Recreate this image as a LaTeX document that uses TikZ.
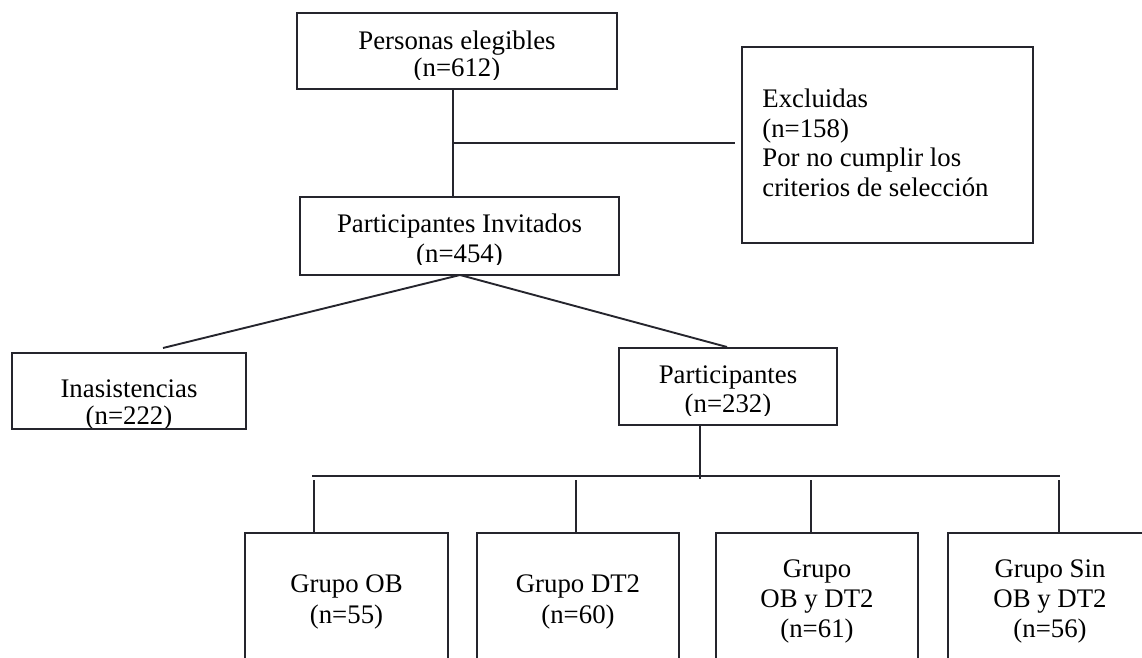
\documentclass[tikz,border=0pt]{standalone}
\usepackage{fontspec}
\setmainfont{Liberation Serif}
\definecolor{lineclr}{HTML}{25252D}
\begin{document}
\begin{tikzpicture}[x=0.5pt,y=-0.5pt,
  box/.style={draw=lineclr, line width=0.95pt, inner sep=0pt, fill=none},
  conn/.style={draw=lineclr, line width=0.95pt},
  txt/.style={inner sep=0pt, anchor=base, font=\fontsize{13.4pt}{15pt}\selectfont},
  ltxt/.style={inner sep=0pt, anchor=base west, font=\fontsize{13.4pt}{15pt}\selectfont}]
\useasboundingbox (0,0) rectangle (1142,658);
\clip (0,0) rectangle (1142,658);
% boxes
\node[box, minimum width=160pt, minimum height=38pt] (b1) at (457,51) {};
\node[box, minimum width=159.5pt, minimum height=39pt] (b2) at (459.5,236) {};
\node[box, minimum width=145.5pt, minimum height=98pt] (ex) at (887.5,145) {};
\node[box, minimum width=117pt, minimum height=38pt] (in) at (129,391) {};
\node[box, minimum width=109pt, minimum height=38.5pt] (pa) at (728,386.5) {};
\node[box, minimum width=101.5pt, minimum height=83.5pt] (g1) at (346.5,616.5) {};
\node[box, minimum width=101pt, minimum height=83.5pt] (g2) at (578,616.5) {};
\node[box, minimum width=101pt, minimum height=83.5pt] (g3) at (817,616.5) {};
\node[box, minimum width=102pt, minimum height=83.5pt] (g4) at (1050,616.5) {};
% texts
\begin{scope}
\clip (297,13) rectangle (617,80);
\node[txt] (t1a) at (457,50) {Personas elegibles};
\node[txt] (t1b) at (457,77) {(n=612)};
\end{scope}
\begin{scope}
\clip (300,197) rectangle (619,265);
\node[txt] (t2a) at (459.5,233) {Participantes Invitados};
\node[txt] (t2b) at (459.5,263) {(n=454)};
\end{scope}
\begin{scope}
\clip (12,353) rectangle (246,427);
\node[txt] (tia) at (129,397) {Inasistencias};
\node[txt] (tib) at (129,424) {(n=222)};
\end{scope}
\begin{scope}
\clip (619,348) rectangle (837,415);
\node[txt] (tpa) at (728,383) {Participantes};
\node[txt] (tpb) at (728,412) {(n=232)};
\end{scope}
\node[ltxt] (tea) at (762,108) {Excluidas};
\node[ltxt] (teb) at (762,137.5) {(n=158)};
\node[ltxt] (tec) at (762,167) {Por no cumplir los};
\node[ltxt] (ted) at (762,197) {criterios de selección};
\node[txt] (tg1a) at (346.5,592) {Grupo OB};
\node[txt] (tg1b) at (346.5,623) {(n=55)};
\node[txt] (tg2a) at (578,592) {Grupo DT2};
\node[txt] (tg2b) at (578,623) {(n=60)};
\node[txt] (tg3a) at (817,577) {Grupo};
\node[txt] (tg3b) at (817,607) {OB y DT2};
\node[txt] (tg3c) at (817,637) {(n=61)};
\node[txt] (tg4a) at (1050,577) {Grupo Sin};
\node[txt] (tg4b) at (1050,607) {OB y DT2};
\node[txt] (tg4c) at (1050,637) {(n=56)};
% connectors
\coordinate (c1) at (453,143);
\coordinate (c2) at (735,143);
\draw[conn] (b1.south -| c1) -- (b2.north -| c1);
\draw[conn] (c1) -- (c2);
\coordinate (s2) at (460,275);
\coordinate (e1) at (163,348);
\coordinate (e2) at (727,347);
\draw[conn] (s2) -- (e1);
\draw[conn] (s2) -- (e2);
\coordinate (pv) at (700,479);
\draw[conn] (pa.south -| pv) -- (pv);
\coordinate (hl) at (312,476);
\coordinate (hr) at (1060,476);
\draw[conn] (hl) -- (hr);
\coordinate (v1) at (314,480);
\coordinate (v2) at (576,480);
\coordinate (v3) at (811,480);
\coordinate (v4) at (1059,480);
\draw[conn] (v1) -- (g1.north -| v1);
\draw[conn] (v2) -- (g2.north -| v2);
\draw[conn] (v3) -- (g3.north -| v3);
\draw[conn] (v4) -- (g4.north -| v4);
\end{tikzpicture}
\end{document}
